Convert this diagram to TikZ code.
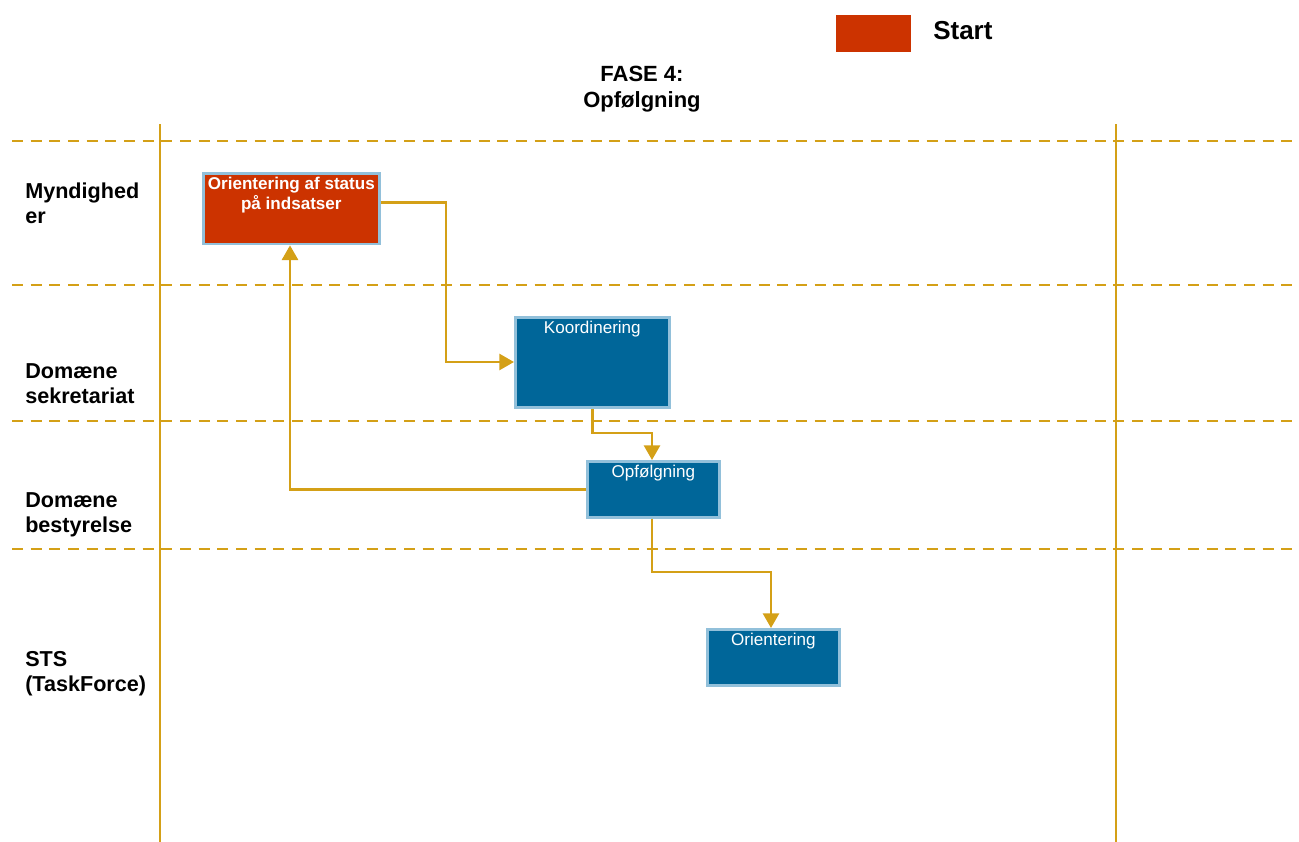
\documentclass[tikz,border=0pt]{standalone}
\usepackage{fontspec}
\setmainfont{Liberation Sans}
\usetikzlibrary{arrows.meta}
\definecolor{lanegold}{RGB}{212,160,23}
\definecolor{startred}{RGB}{204,51,0}
\definecolor{stepblue}{RGB}{0,102,153}
\definecolor{edgeblue}{RGB}{146,192,218}
\begin{document}
\begin{tikzpicture}[x=0.75pt,y=-0.75pt,
  lane/.style={lanegold,line width=2pt,dash pattern=on 8.25pt off 5.75pt},
  rail/.style={lanegold,line width=2pt},
  flow/.style={lanegold,line width=2pt,-{Triangle[length=11pt,width=12pt]}},
  stepbox/.style={draw=edgeblue,line width=2pt,fill=stepblue,anchor=north west,inner sep=0pt},
  startbox/.style={draw=edgeblue,line width=2pt,fill=startred,anchor=north west,inner sep=0pt},
  steptext/.style={anchor=north,text=white,font=\fontsize{12.8pt}{14pt}\selectfont,align=center,inner sep=4pt},
  lanetext/.style={anchor=west,font=\bfseries\fontsize{16.2pt}{19pt}\selectfont,align=left,inner sep=0pt}]
\useasboundingbox (0,0) rectangle (1299,842);

% swimlane separators
\coordinate (l1a) at (12,141);  \coordinate (l1b) at (1294,141);
\coordinate (l2a) at (12,285);  \coordinate (l2b) at (1294,285);
\coordinate (l3a) at (12,421);  \coordinate (l3b) at (1294,421);
\coordinate (l4a) at (12,549);  \coordinate (l4b) at (1294,549);
\draw[lane] (l1a) -- (l1b);
\draw[lane] (l2a) -- (l2b);
\draw[lane] (l3a) -- (l3b);
\draw[lane] (l4a) -- (l4b);

% phase borders
\coordinate (r1a) at (160,124); \coordinate (r1b) at (160,842);
\coordinate (r2a) at (1116,124); \coordinate (r2b) at (1116,842);
\draw[rail] (r1a) -- (r1b);
\draw[rail] (r2a) -- (r2b);

% legend
\node[fill=startred,minimum width=56.25pt,minimum height=27.75pt,inner sep=0pt,anchor=north west] (legend) at (836,15) {};
\node[anchor=west,font=\bfseries\fontsize{19.5pt}{22pt}\selectfont,inner sep=0pt] (legendtext) at (933,31) {Start};

% phase heading
\node[font=\bfseries\fontsize{16.5pt}{19pt}\selectfont,align=center,inner sep=0pt] (phase) at (642,89) {FASE 4:\\Opfølgning};

% lane names
\node[lanetext] (laneA) at (25,203) {Myndighed\\er};
\node[lanetext] (laneB) at (25,384) {Domæne\\sekretariat};
\node[lanetext] (laneC) at (25,515) {Domæne\\bestyrelse};
\node[lanetext] (laneD) at (25,674) {STS\\(TaskForce)};

% process steps
\node[startbox,minimum width=132pt,minimum height=53pt] (status) at (202,172) {};
\node[steptext,font=\bfseries\fontsize{12.8pt}{14.5pt}\selectfont] at (status.north) {Orientering af status\\på indsatser};

\node[stepbox,minimum width=115.5pt,minimum height=67.5pt] (koord) at (514,316) {};
\node[steptext] at (koord.north) {Koordinering};

\node[stepbox,minimum width=99pt,minimum height=42pt] (opf) at (586,460) {};
\node[steptext] at (opf.north) {Opfølgning};

\node[stepbox,minimum width=99pt,minimum height=42pt] (orient) at (706,628) {};
\node[steptext] at (orient.north) {Orientering};

% connectors
\draw[flow] ([yshift=4.5pt]status.east) -| (446,362) -- (koord.west |- 0,362);
\draw[flow] (koord.south) |- (652,433) -- (opf.north -| 652,0);
\draw[flow] (opf.west) -| (status.south -| 290,0);
\draw[flow] (opf.south -| 652,0) |- (771,572) -- (orient.north -| 771,0);
\end{tikzpicture}
\end{document}
